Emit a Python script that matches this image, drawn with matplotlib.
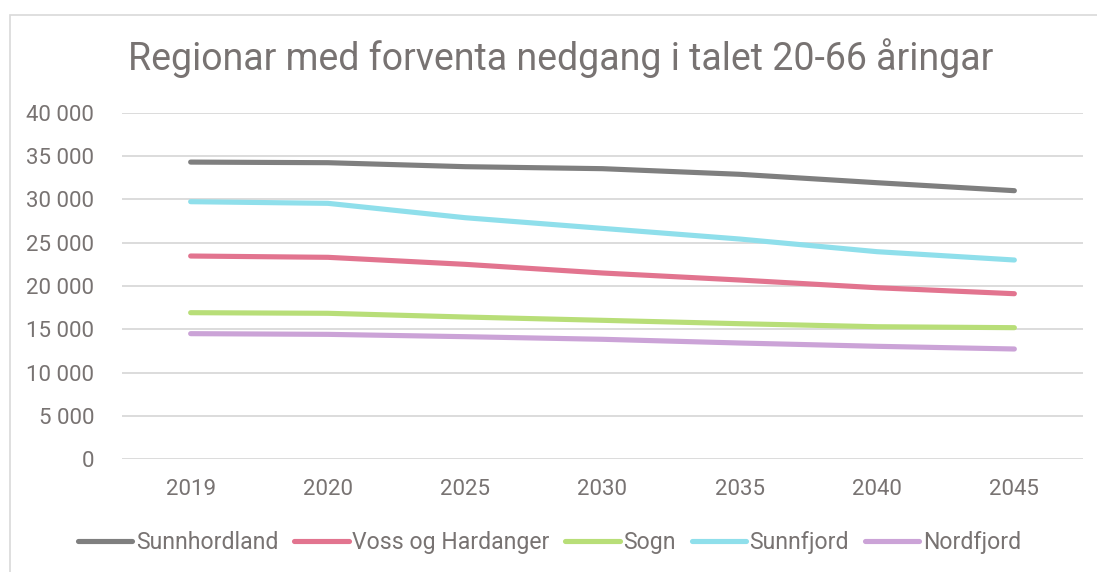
import matplotlib
matplotlib.use("Agg")
import matplotlib.pyplot as plt
from matplotlib.patches import Rectangle

plt.rcParams['font.family'] = ['Roboto', 'DejaVu Sans']

years = ["2019", "2020", "2025", "2030", "2035", "2040", "2045"]
sunnhordland = [34300, 34230, 33770, 33540, 32890, 31920, 31000]
voss_og_hardanger = [23460, 23310, 22500, 21500, 20690, 19800, 19110]
sogn = [16920, 16850, 16420, 16040, 15650, 15300, 15190]
sunnfjord = [29730, 29540, 27880, 26650, 25420, 23960, 23000]
nordfjord = [14500, 14420, 14150, 13850, 13420, 13040, 12730]

series_names = ["Sunnhordland", "Voss og Hardanger", "Sogn", "Sunnfjord", "Nordfjord"]
series_values = [sunnhordland, voss_og_hardanger, sogn, sunnfjord, nordfjord]
colors = ["#7f7f7f", "#e2748f", "#b8de78", "#8fdfeb", "#cba3d7"]
title = "Regionar med forventa nedgang i talet 20-66 åringar"
yticks = [0, 5000, 10000, 15000, 20000, 25000, 30000, 35000, 40000]

text_color = "#787372"
grid_color = "#d9d9d9"

W, H = 1097, 572
fig = plt.figure(figsize=(W / 100, H / 100), dpi=100)
fig.patch.set_facecolor("white")

# chart border
fig.patches.append(Rectangle((9.5 / W, -0.1), 1.2, 1 - 15 / H + 0.1, transform=fig.transFigure,
                             fill=False, edgecolor=grid_color, linewidth=1.2))

left, right = 122 / W, 1083 / W
bottom, top = 1 - 459.3 / H, 1 - 112.7 / H
ax = fig.add_axes([left, bottom, right - left, top - bottom])

x = list(range(len(years)))
for name, vals, c in zip(series_names, series_values, colors):
    ax.plot(x, vals, color=c, linewidth=3.7, solid_capstyle="round",
            solid_joinstyle="round", label=name, zorder=3)

ax.set_xlim(-0.5, len(years) - 0.5)
ax.set_ylim(0, 40000)
ax.set_yticks(yticks)
ax.set_yticklabels([f"{v:,}".replace(",", " ") for v in yticks])
ax.set_xticks(x)
ax.set_xticklabels(years)
ax.yaxis.grid(True, color=grid_color, linewidth=1.3)
ax.set_axisbelow(True)
for s in ax.spines.values():
    s.set_visible(False)
ax.tick_params(axis="both", length=0, labelsize=16, labelcolor=text_color)
ax.tick_params(axis="y", pad=20)
ax.tick_params(axis="x", pad=14)

fig.text(561 / W, 1 - 58.5 / H, title, ha="center", va="center", fontsize=27, color=text_color)

leg = fig.legend(loc="center", bbox_to_anchor=(549.5 / W, 1 - 542.7 / H), ncol=5,
                 frameon=False, fontsize=16.6, handlelength=2.35, handletextpad=0.15,
                 columnspacing=0.7, borderpad=0, borderaxespad=0)
for t in leg.get_texts():
    t.set_color(text_color)
for h in leg.get_lines():
    h.set_linewidth(3.7)
    h.set_solid_capstyle("round")

fig.savefig("out.png", dpi=100, facecolor="white")
